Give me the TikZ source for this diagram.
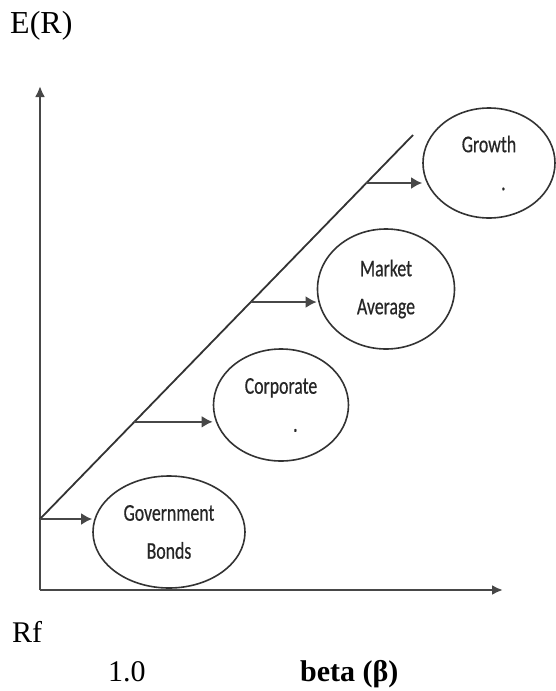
\documentclass[tikz,border=0pt]{standalone}
\usepackage{fontspec}
\setmainfont{Liberation Serif}
\newfontfamily\fundfont[FakeStretch=0.74,FakeBold=0.5]{Carlito}
\usetikzlibrary{shapes,arrows.meta,calc}
\tikzstyle{line} = [draw, -{Latex[length=11pt,width=12pt]}, line width=2.6pt, color=black!72]
\tikzstyle{axis} = [draw, -{Latex[length=11pt,width=10pt]}, line width=2.2pt, color=black!72]
\tikzstyle{sml} = [draw, line width=1.8pt, color=black!80]
\tikzstyle{fund} = [draw, ellipse, line width=1.6pt, color=black!80, text=black!85, align=center, inner sep=0pt, font=\fontsize{24}{38}\fundfont]
\tikzstyle{lbl} = [inner sep=0pt, anchor=base west, font=\fontsize{30}{30}\selectfont]

\begin{document}
\begin{tikzpicture}[x=1pt, y=-1pt]
\useasboundingbox (0,0) rectangle (555,691);

% axes
\coordinate (O) at (40,590);
\coordinate (ytop) at (40,86);
\coordinate (xend) at (503,590);
\path [axis] (O) to (ytop);
\path [axis] (O) to (xend);

\node [lbl, font=\fontsize{32}{32}\selectfont] (er) at (10,33) {E(R)};
\node [lbl] (rf) at (12,642) {Rf};
\node [lbl] (one) at (108,681) {1.0};
\node [lbl, font=\fontsize{30}{30}\selectfont\bfseries] (beta) at (300,681) {beta (β)};

% security market line
\coordinate (d0) at (40,519);
\coordinate (d1) at (413,135);
\path [sml] (d0) to (d1);

\node [fund, minimum width=152pt, minimum height=112pt] (gov) at (169,532) {Government\\Bonds};
\node [fund, minimum width=135pt, minimum height=112pt] (corp) at (281,405) {Corporate\\\hspace*{1.2em}.};
\node [fund, minimum width=137pt, minimum height=120pt] (mkt) at (386,289) {Market\\Average};
\node [fund, minimum width=132pt, minimum height=110pt] (grow) at (489,163) {Growth\\\hspace*{1.2em}.};

\coordinate (c1) at ($(d0)!0.253!(d1)$);
\coordinate (c2) at ($(d0)!0.565!(d1)$);
\coordinate (c3) at ($(d0)!0.875!(d1)$);

\path [line] (d0) to (d0 -| gov.west);
\path [line] (c1) to (c1 -| corp.west);
\path [line] (c2) to (c2 -| mkt.west);
\path [line] (c3) to (c3 -| grow.west);

\end{tikzpicture}
\end{document}
